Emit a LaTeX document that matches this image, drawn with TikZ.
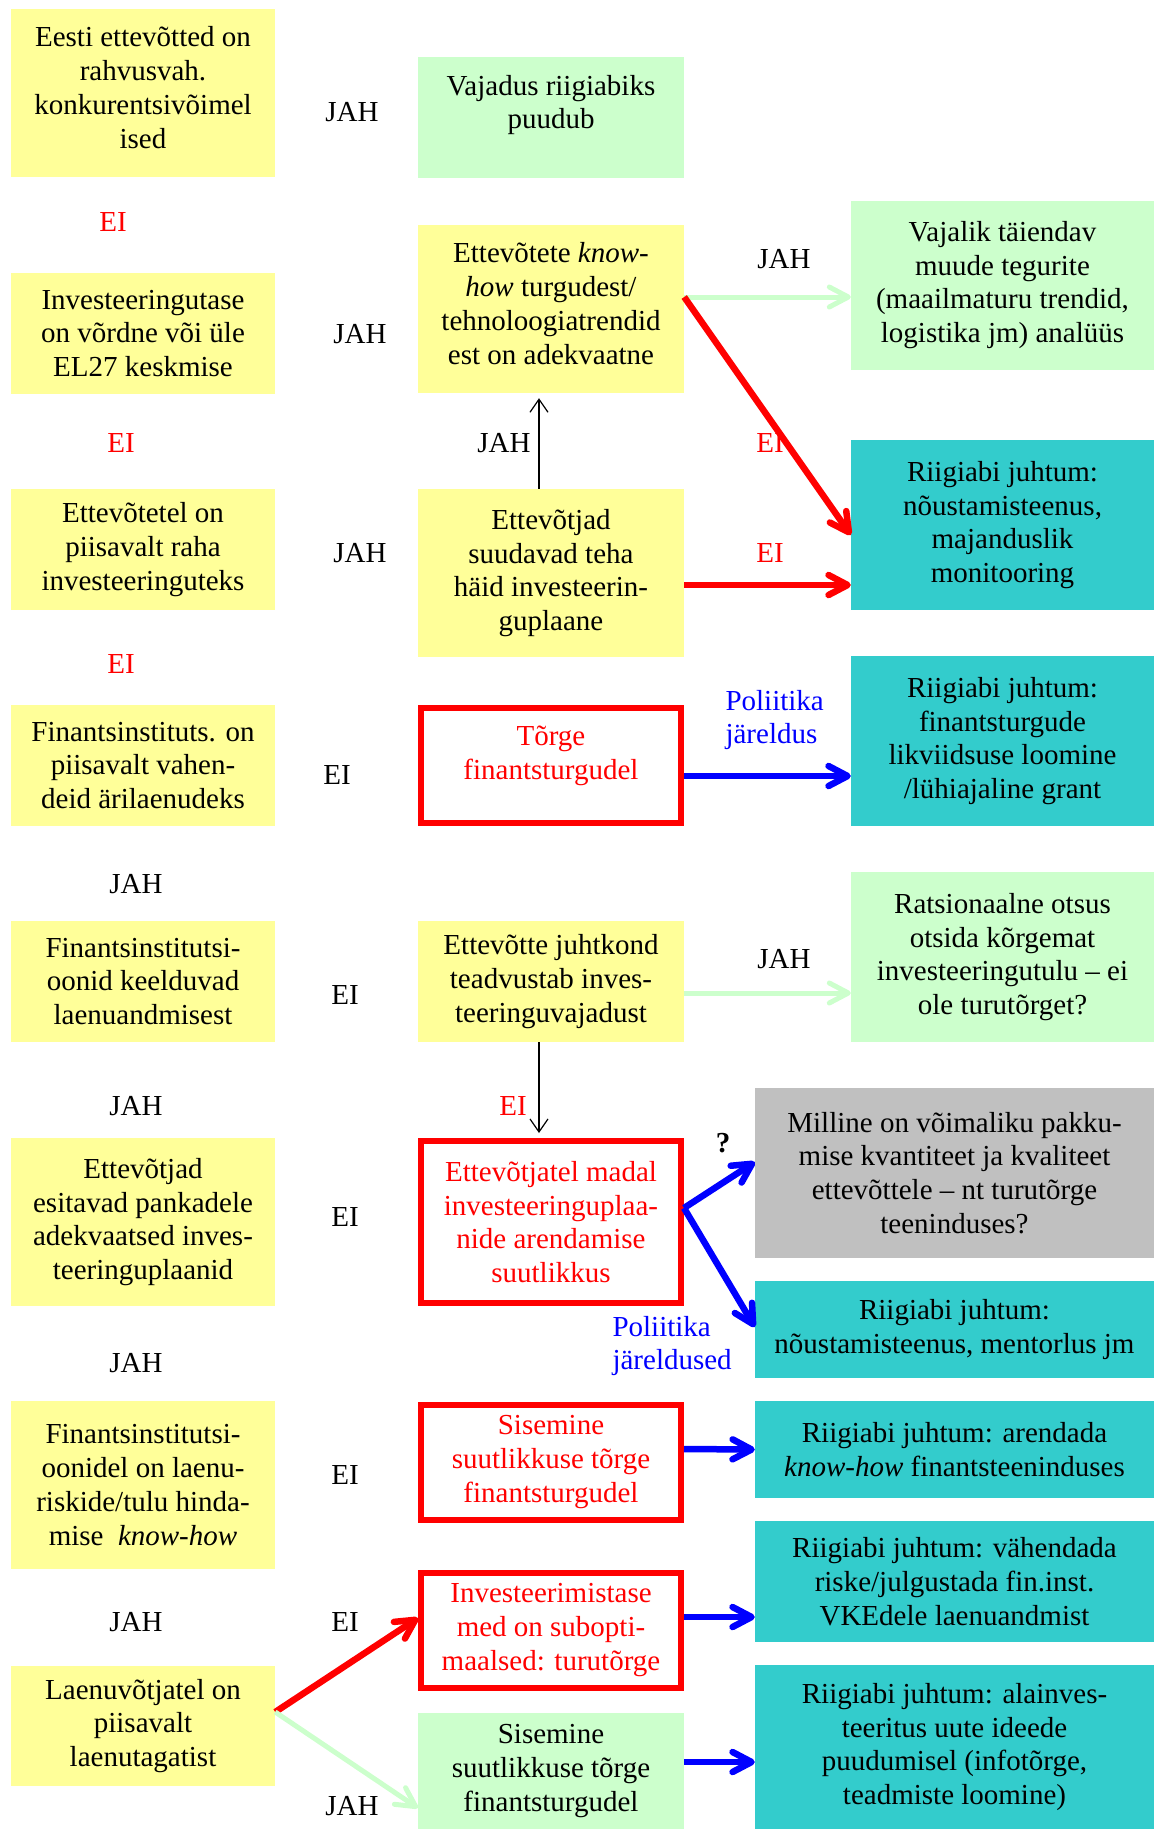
\documentclass[tikz,border=0pt]{standalone}
\usepackage{fontspec}
\setmainfont{Liberation Serif}
\usetikzlibrary{arrows.meta}
\definecolor{qyellow}{HTML}{FFFF99}
\definecolor{okgreen}{HTML}{CCFFCC}
\definecolor{aidteal}{HTML}{33CCCC}
\definecolor{askgray}{HTML}{C0C0C0}
\begin{document}
\begin{tikzpicture}[
        x=1pt, y=-1pt,
        font=\fontsize{29}{33.8}\selectfont,
        box/.style={rectangle, align=center, inner sep=0pt},
        question/.style={box, fill=qyellow, minimum width=264pt},
        nohelp/.style={box, fill=okgreen},
        aid/.style={box, fill=aidteal},
        unclear/.style={box, fill=askgray},
        failure/.style={box, draw=red, line width=6pt, text=red, minimum width=260pt, minimum height=115pt},
        arrow/.style={-{Straight Barb[length=13pt,width=18pt]}, line width=1.2pt},
        redarrow/.style={-{Straight Barb[length=19pt,width=20pt,round]}, line width=6.5pt, red},
        bluearrow/.style={-{Straight Barb[length=19pt,width=20pt,round]}, line width=6.5pt, blue},
        greenarrow/.style={-{Straight Barb[length=19pt,width=20pt,round]}, line width=5pt, okgreen},
        eilabel/.style={text=red},
        pollabel/.style={text=blue, align=left, anchor=west}
    ]
        \useasboundingbox (0,0) rectangle (1154,1829);

        % Left column
        \node[question, minimum height=168pt] (a1) at (143,93) {Eesti ettevõtted on\\rahvusvah.\\konkurentsivõimel\\ised\\[-33pt]\strut};
        \node[question, minimum height=121pt] (a2) at (143,333.5) {Investeeringutase\\on võrdne või üle\\EL27 keskmise};
        \node[question, minimum height=121pt] (a3) at (143,549.5) {Ettevõtetel on\\piisavalt raha\\investeeringuteks};
        \node[question, minimum height=121pt] (a4) at (143,765.5) {Finantsinstituts. on\\piisavalt vahen-\\deid ärilaenudeks};
        \node[question, minimum height=121pt] (a5) at (143,981.5) {Finantsinstitutsi-\\oonid keelduvad\\laenuandmisest};
        \node[question, minimum height=168pt] (a6) at (143,1222) {Ettevõtjad\\esitavad pankadele\\adekvaatsed inves-\\teeringuplaanid};
        \node[question, minimum height=168pt] (a7) at (143,1485) {Finantsinstitutsi-\\oonidel on laenu-\\riskide/tulu hinda-\\mise\ \ \textit{know-how}};
        \node[question, minimum height=120pt] (a8) at (143,1726) {Laenuvõtjatel on\\piisavalt\\laenutagatist};

        \node[eilabel] (e1) at (113,222) {EI};
        \node[eilabel] (e2) at (121,443) {EI};
        \node[eilabel] (e3) at (121,664) {EI};
        \node (j1) at (136,884) {JAH};
        \node (j2) at (136,1106) {JAH};
        \node (j3) at (136,1363) {JAH};
        \node (j4) at (136,1622) {JAH};

        % Middle column
        \node[nohelp, minimum width=266pt, minimum height=121pt] (b1) at (551,117) {Vajadus riigiabiks\\puudub\\[-14pt]\strut};
        \node[question, minimum width=266pt, minimum height=168pt] (b2) at (551,309) {Ettevõtete \textit{know-}\\\textit{how} turgudest/\\tehnoloogiatrendid\\est on adekvaatne\\[-33pt]\strut};
        \node[question, minimum width=266pt, minimum height=168pt] (b3) at (551,573) {Ettevõtjad\\suudavad teha\\häid investeerin-\\guplaane};
        \node[failure] (b4) at (551,765.5) {Tõrge\\finantsturgudel\\[-18pt]\strut};
        \node[question, minimum width=266pt, minimum height=121pt] (b5) at (551,981.5) {Ettevõtte juhtkond\\teadvustab inves-\\teeringuvajadust};
        \node[failure, minimum height=162pt] (b6) at (551,1222) {Ettevõtjatel madal\\investeeringuplaa-\\nide arendamise\\suutlikkus};
        \node[failure] (b7) at (551,1462) {Sisemine\\suutlikkuse tõrge\\finantsturgudel};
        \node[failure] (b8) at (551,1630) {Investeerimistase\\med on subopti-\\maalsed: turutõrge};
        \node[nohelp, minimum width=266pt, minimum height=116pt] (b9) at (551,1771) {Sisemine\\suutlikkuse tõrge\\finantsturgudel};

        \node (j5) at (352,112) {JAH};
        \node (j6) at (360,334) {JAH};
        \node (j7) at (360,553) {JAH};
        \node (e4) at (337,775) {EI};
        \node (e5) at (345,995) {EI};
        \node (e6) at (345,1217) {EI};
        \node (e7) at (345,1475) {EI};
        \node (e8) at (345,1622) {EI};
        \node (j8) at (352,1806) {JAH};
        \node (j9) at (504,443) {JAH};
        \node[eilabel] (e9) at (513,1106) {EI};

        % Right column
        \node[nohelp, minimum width=303pt, minimum height=169pt] (c1) at (1002.5,285) {Vajalik täiendav\\muude tegurite\\(maailmaturu trendid,\\logistika jm) analüüs};
        \node[aid, minimum width=303pt, minimum height=170pt] (c2) at (1002.5,525) {Riigiabi juhtum:\\nõustamisteenus,\\majanduslik\\monitooring};
        \node[aid, minimum width=303pt, minimum height=170pt] (c3) at (1002.5,741) {Riigiabi juhtum:\\finantsturgude\\likviidsuse loomine\\/lühiajaline grant};
        \node[nohelp, minimum width=303pt, minimum height=170pt] (c4) at (1002.5,957) {Ratsionaalne otsus\\otsida kõrgemat\\investeeringutulu – ei\\ole turutõrget?};
        \node[unclear, minimum width=399pt, minimum height=170pt] (c5) at (954.5,1173) {Milline on võimaliku pakku-\\mise kvantiteet ja kvaliteet\\ettevõttele – nt turutõrge\\teeninduses?};
        \node[aid, minimum width=399pt, minimum height=97pt] (c6) at (954.5,1329.5) {Riigiabi juhtum:\\nõustamisteenus, mentorlus jm};
        \node[aid, minimum width=399pt, minimum height=97pt] (c7) at (954.5,1449.5) {Riigiabi juhtum: arendada\\\textit{know-how} finantsteeninduses};
        \node[aid, minimum width=399pt, minimum height=121pt] (c8) at (954.5,1581.5) {Riigiabi juhtum: vähendada\\riske/julgustada fin.inst.\\VKEdele laenuandmist};
        \node[aid, minimum width=399pt, minimum height=164pt] (c9) at (954.5,1747) {Riigiabi juhtum: alainves-\\teeritus uute ideede\\puudumisel (infotõrge,\\teadmiste loomine)};

        \node (j10) at (784,259) {JAH};
        \node[eilabel] (e10) at (770,443) {EI};
        \node[eilabel] (e11) at (770,553) {EI};
        \node[pollabel] (p1) at (722,720) {Poliitika\\järeldus};
        \node (j11) at (784,959) {JAH};
        \node (qm) at (723,1143) {\textbf{?}};
        \node[pollabel] (p2) at (609,1346) {Poliitika\\järeldused};

        % Connectors
        \draw[greenarrow] ([yshift=12pt]b2.east) -- ([yshift=-12pt]c1.west);
        \draw[redarrow] ([yshift=12pt]b2.east) -- ([yshift=-10pt]c2.west);
        \draw[redarrow] ([yshift=-12pt]b3.east) -- ([yshift=-60pt]c2.west);
        \draw[arrow, shorten >=5pt] ([xshift=-12pt]b3.north) -- ([xshift=-12pt]b2.south);
        \draw[bluearrow] ([yshift=-10.5pt]b4.east) -- ([yshift=-35pt]c3.west);
        \draw[greenarrow] ([yshift=-11.5pt]b5.east) -- ([yshift=-36pt]c4.west);
        \draw[arrow, shorten >=5pt] ([xshift=-12pt]b5.south) -- ([xshift=-12pt]b6.north);
        \draw[bluearrow] ([yshift=14pt]b6.east) -- ([yshift=11pt]c5.west);
        \draw[bluearrow] ([yshift=14pt]b6.east) -- ([yshift=2.5pt]c6.west);
        \draw[bluearrow] ([yshift=13pt]b7.east) -- (c7.west);
        \draw[bluearrow] ([yshift=13pt]b8.east) -- ([yshift=-35.5pt]c8.west);
        \draw[bluearrow] ([yshift=9pt]b9.east) -- ([yshift=-15pt]c9.west);
        \draw[redarrow] ([yshift=14pt]a8.east) -- ([yshift=12pt]b8.west);
        \draw[greenarrow] ([yshift=14pt]a8.east) -- ([yshift=-37pt]b9.west);
    \end{tikzpicture}
\end{document}
